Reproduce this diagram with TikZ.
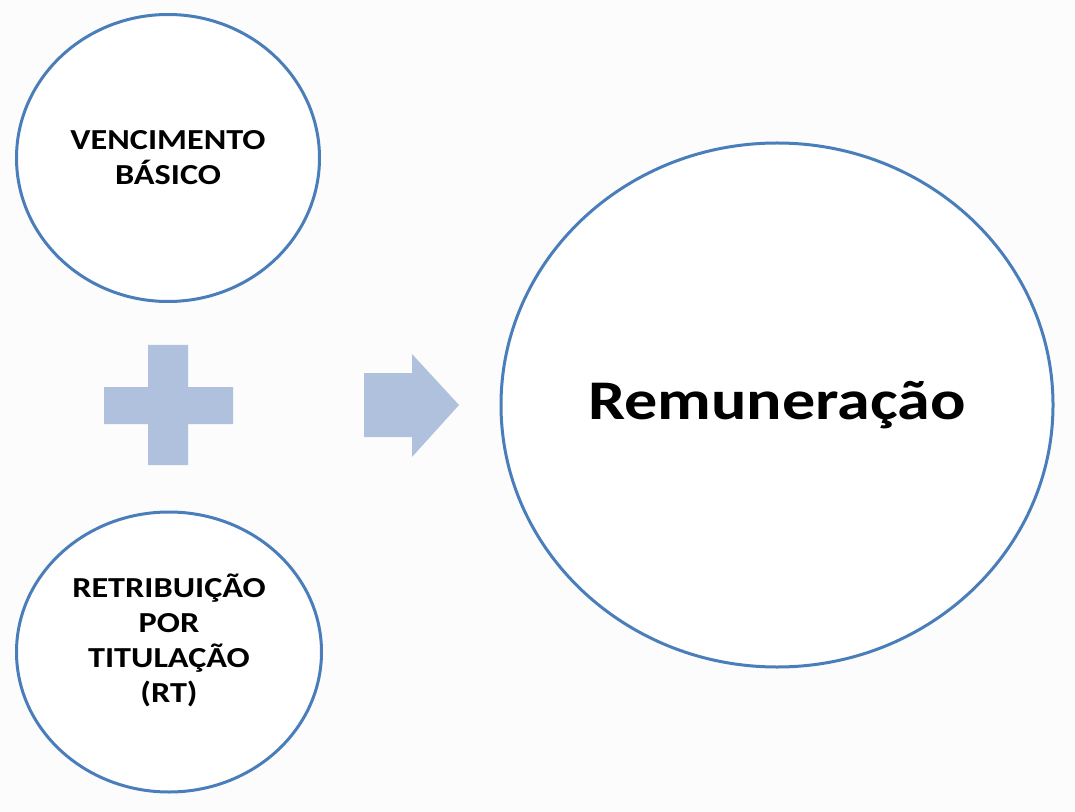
\documentclass[tikz,border=0pt]{standalone}
\usepackage{fontspec}
\setmainfont{Carlito}
\newfontfamily\widefont[FakeStretch=1.18]{Carlito}
\usepackage{tikz}
\usetikzlibrary{shapes.geometric, calc, positioning}
\definecolor{ringblue}{RGB}{74,126,187}
\definecolor{signblue}{RGB}{176,193,221}
\definecolor{paper}{RGB}{252,252,252}
\tikzstyle{ring} = [ellipse, line width=1.5pt, inner sep=0pt, draw=ringblue, fill=white, align=center, font=\widefont\bfseries]
\tikzstyle{small} = [font=\widefont\fontsize{14.5}{17.5}\selectfont\bfseries]
\tikzstyle{sign} = [fill=signblue, draw=none]

\begin{document}
\begin{tikzpicture}[x=0.5pt, y=-0.5pt]
	\fill[paper] (0,0) rectangle (1075,812);
	\node (Vencimento) [ring, small, minimum width=151.5pt, minimum height=143.5pt] at (168,158) {VENCIMENTO\\BÁSICO};
	\node (Retribuicao) [ring, minimum width=152.5pt, minimum height=140pt] at (169,652) {};
	\node (RetribuicaoText) [small, align=center] at ($(Retribuicao)+(0,-12)$) {RETRIBUIÇÃO\\POR\\TITULAÇÃO\\(RT)};
	\node (Remuneracao) [ring, minimum width=276pt, minimum height=262pt, font=\widefont\fontsize{28}{34}\selectfont\bfseries] at (777,405) {Remuneração};
	% plus sign
	\fill[sign] (104,387) -- (148,387) -- (148,345) -- (188,345) -- (188,387) -- (233,387)
		-- (233,424) -- (188,424) -- (188,465) -- (148,465) -- (148,424) -- (104,424) -- cycle;
	% arrow
	\fill[sign] (364,373) -- (412,373) -- (412,354) -- (459,405) -- (412,457) -- (412,437) -- (364,437) -- cycle;
\end{tikzpicture}
\end{document}
